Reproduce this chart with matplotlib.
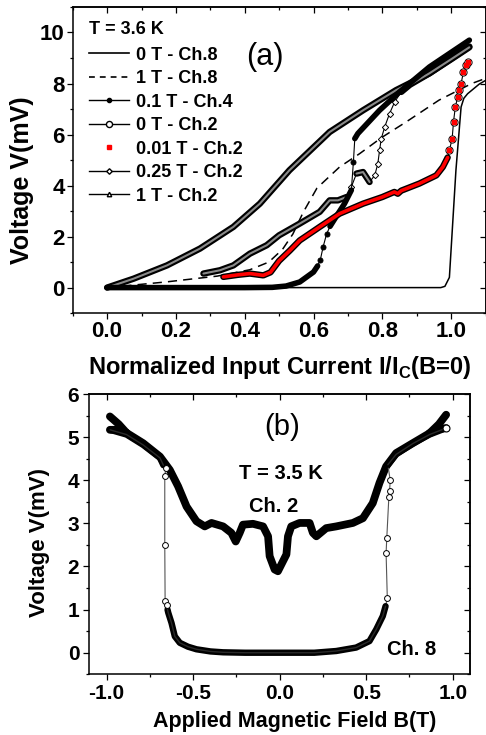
import numpy as np
import matplotlib
matplotlib.use("Agg")
import matplotlib.pyplot as plt
from matplotlib.lines import Line2D
from matplotlib.ticker import MultipleLocator

plt.rcParams['font.family'] = ['Liberation Sans', 'DejaVu Sans']
plt.rcParams['font.weight'] = 'bold'
plt.rcParams['axes.unicode_minus'] = False
plt.rcParams['mathtext.fontset'] = 'custom'
plt.rcParams['mathtext.rm'] = 'Liberation Sans:bold'
plt.rcParams['mathtext.bf'] = 'Liberation Sans:bold'

# ---------------- panel (a): V vs I/Ic, T = 3.6 K ----------------
# 0 T - Ch.8 (solid)
i_0t_ch8 = [0.0, 0.25, 0.5, 0.75, 0.97, 0.982, 0.995, 1.014, 1.029, 1.037, 1.048, 1.082, 1.1]
v_0t_ch8 = [0.0, 0.0, 0.0, 0.0, 0.0, 0.05, 0.4, 4.6, 7.08, 7.42, 7.6, 7.98, 8.12]

# 1 T - Ch.8 (dashed)
i_1t_ch8 = [0.0, 0.17, 0.32, 0.415, 0.47, 0.51, 0.54, 0.57, 0.61, 0.676, 0.734, 0.80, 0.87, 0.965, 1.06, 1.1]
v_1t_ch8 = [0.0, 0.22, 0.45, 0.70, 1.0, 1.5, 2.1, 2.95, 3.9, 4.73, 5.25, 5.9, 6.5, 7.35, 8.0, 8.2]

# 0.1 T - Ch.4 (filled circles)
i_01t_ch4 = [0.0, 0.2, 0.4, 0.48, 0.52, 0.56, 0.60, 0.612, 0.62, 0.628, 0.638, 0.648, 0.662,
             0.69, 0.71, 0.716, 0.72, 0.729, 0.792, 0.85, 0.937, 1.053]
v_01t_ch4 = [0.0, 0.0, 0.0, 0.01, 0.06, 0.22, 0.61, 0.85, 1.1, 1.6, 2.1, 2.4, 2.7,
             3.29, 3.82, 4.93, 5.84, 6.04, 6.95, 7.67, 8.65, 9.7]
sparse_ch4 = [8, 9, 10, 15]

# 0 T - Ch.2 (open circles) and 0.01 T - Ch.2 (red squares), same trace
i_0t_ch2 = [0.338, 0.38, 0.415, 0.454, 0.475, 0.50, 0.531, 0.56, 0.618, 0.676, 0.744, 0.80, 0.835,
            0.845, 0.855, 0.908, 0.957, 0.976, 0.99, 0.995, 1.003, 1.007, 1.012, 1.019, 1.022,
            1.029, 1.036, 1.043, 1.05]
v_0t_ch2 = [0.42, 0.5, 0.55, 0.48, 0.6, 1.05, 1.45, 1.85, 2.38, 2.9, 3.29, 3.55, 3.75,
            3.68, 3.8, 4.08, 4.4, 4.73, 5.1, 5.38, 5.84, 6.5, 7.06, 7.47, 7.74,
            8.0, 8.46, 8.72, 8.85]
sparse_ch2 = list(range(19, 29))

# 0.25 T - Ch.2 (open diamonds)
i_025t_ch2 = [0.28, 0.328, 0.367, 0.415, 0.464, 0.50, 0.56, 0.618, 0.647, 0.671, 0.696, 0.71, 0.725,
              0.744, 0.763, 0.778, 0.787, 0.792, 0.797, 0.807, 0.821, 0.836, 0.855, 0.88, 0.937,
              1.0, 1.053]
v_025t_ch2 = [0.55, 0.68, 0.87, 1.33, 1.66, 2.05, 2.51, 2.97, 3.42, 3.42, 3.55, 3.95, 4.47,
              4.53, 4.14, 4.4, 4.86, 5.38, 5.84, 6.3, 6.82, 7.28, 7.67, 7.95, 8.4,
              8.95, 9.42]
sparse_025 = [11, 15, 16, 17, 18, 19, 20, 21]

# 1 T - Ch.2 (open triangles)
i_1t_ch2 = [0.0, 0.077, 0.174, 0.27, 0.367, 0.444, 0.53, 0.647, 0.744, 0.84, 0.937, 1.053]
v_1t_ch2 = [0.0, 0.35, 0.87, 1.53, 2.38, 3.29, 4.6, 6.1, 6.95, 7.74, 8.4, 9.45]

labels_a = ['0 T - Ch.8', '1 T - Ch.8', '0.1 T - Ch.4', '0 T - Ch.2',
            '0.01 T - Ch.2', '0.25 T - Ch.2', '1 T - Ch.2']

# ---------------- panel (b): V vs B, T = 3.5 K ----------------
# Ch. 2, common part of the sweep
b_ch2 = [-0.885, -0.789, -0.692, -0.635, -0.587, -0.538, -0.481, -0.433, -0.394, -0.327, -0.279,
         -0.254, -0.231, -0.212, -0.154, -0.096, -0.067, -0.058, -0.029, -0.01, 0.039, 0.048,
         0.067, 0.115, 0.173, 0.192, 0.212, 0.269, 0.327, 0.423, 0.481, 0.538, 0.577, 0.615,
         0.673, 0.769, 0.866]
v_ch2 = [5.1, 4.86, 4.55, 4.24, 3.86, 3.39, 3.05, 2.93, 3.01, 2.93, 2.78,
         2.58, 2.78, 2.97, 2.99, 2.93, 2.7, 2.24, 1.93, 1.89, 2.28, 2.7,
         2.93, 3.01, 3.01, 2.78, 2.7, 2.89, 2.93, 3.01, 3.12, 3.47, 3.94, 4.32,
         4.63, 4.86, 5.09]
# Ch. 2, the two branches at the ends of the field range
b_ch2_left = [-0.981, -0.93, -0.885]
v_ch2_left_up = [5.48, 5.3, 5.1]
v_ch2_left_dn = [5.17, 5.17, 5.1]
b_ch2_right = [0.866, 0.92, 0.962]
v_ch2_right_up = [5.09, 5.3, 5.52]
v_ch2_right_dn = [5.09, 5.19, 5.21]

# Ch. 8 (open circles)
b_ch8 = [-0.98, -0.885, -0.789, -0.692, -0.672, -0.658, -0.664, -0.664, -0.662, -0.654, -0.648,
         -0.644, -0.625, -0.606, -0.577, -0.53, -0.481, -0.4, -0.327, -0.2, 0.0, 0.2, 0.327,
         0.442, 0.519, 0.558, 0.596, 0.612, 0.622, 0.615, 0.619, 0.631, 0.635, 0.639, 0.625,
         0.673, 0.769, 0.866, 0.962]
v_ch8 = [5.17, 5.06, 4.82, 4.52, 4.35, 4.28, 4.09, 2.51, 1.19, 1.1, 1.0,
         0.93, 0.69, 0.38, 0.23, 0.14, 0.08, 0.03, 0.01, 0.0, 0.0, 0.0, 0.04,
         0.12, 0.27, 0.54, 0.85, 1.08, 1.27, 2.31, 2.66, 3.61, 3.74, 4.0, 4.36,
         4.6, 4.85, 5.06, 5.21]
sparse_ch8 = [5, 6, 7, 8, 9, 28, 29, 30, 31, 32, 33]


def trace(ax, x, v, sparse=(), lw=4.5, inner=None, inner_lw=1.5, marker=None,
          ms=4.0, mfc='w', thin='k', z=2):
    x = np.asarray(x, float)
    v = np.asarray(v, float)
    vb = v.copy()
    sparse = list(sparse)
    if sparse:
        vb[sparse] = np.nan
    ax.plot(x, v, color=thin, lw=0.8, zorder=z)
    ax.plot(x, vb, color='k', lw=lw, solid_capstyle='round',
            solid_joinstyle='round', zorder=z)
    if inner:
        ax.plot(x, vb, color=inner, lw=inner_lw, solid_capstyle='round', zorder=z)
    if marker and sparse:
        ax.plot(x[sparse], v[sparse], ls='none', marker=marker, ms=ms,
                mfc=mfc, mec='k', mew=0.7, zorder=z + 0.1)


def frame(ax, xmaj, xmin, ymaj, ymin, size):
    for s in ax.spines.values():
        s.set_linewidth(1.1)
    ax.xaxis.set_major_locator(MultipleLocator(xmaj))
    ax.xaxis.set_minor_locator(MultipleLocator(xmin))
    ax.yaxis.set_major_locator(MultipleLocator(ymaj))
    ax.yaxis.set_minor_locator(MultipleLocator(ymin))
    ax.tick_params(which='major', direction='out', length=4.2, width=0.9,
                   labelsize=size, pad=1.5)
    ax.tick_params(which='minor', direction='out', length=2.4, width=0.9)
    top = ax.secondary_xaxis('top')
    right = ax.secondary_yaxis('right')
    top.xaxis.set_major_locator(MultipleLocator(xmaj))
    top.xaxis.set_minor_locator(MultipleLocator(xmin))
    right.yaxis.set_major_locator(MultipleLocator(ymaj))
    right.yaxis.set_minor_locator(MultipleLocator(ymin))
    for sec in (top, right):
        sec.tick_params(which='major', direction='in', length=4.2, width=0.9,
                        labeltop=False, labelright=False)
        sec.tick_params(which='minor', direction='in', length=2.4, width=0.9)
        for s in sec.spines.values():
            s.set_linewidth(1.1)


fig = plt.figure(figsize=(4.86, 7.35), dpi=100)

# ---- (a) ----
ax1 = fig.add_axes([0.1496, 0.574, 0.8494, 0.4165])
ax1.plot(i_0t_ch8, v_0t_ch8, color='k', lw=1.1, zorder=3)
ax1.plot(i_1t_ch8, v_1t_ch8, color='k', lw=1.1, ls=(0, (6, 4)), zorder=3)
trace(ax1, i_1t_ch2, v_1t_ch2, lw=4.6, inner='#8a8a8a', inner_lw=1.5, z=4)
trace(ax1, i_025t_ch2, v_025t_ch2, sparse_025, lw=4.6, inner='#8a8a8a', inner_lw=1.5,
      marker='D', ms=3.2, z=5)
trace(ax1, i_01t_ch4, v_01t_ch4, sparse_ch4, lw=4.0, marker='o', ms=3.6, mfc='k', z=6)
trace(ax1, i_0t_ch2, v_0t_ch2, sparse_ch2, lw=4.6, marker='o', ms=5.2, z=7)
r_i = np.asarray(i_0t_ch2, float)
r_v = np.asarray(v_0t_ch2, float)
rb = r_v.copy()
rb[sparse_ch2] = np.nan
ax1.plot(r_i, rb, color='red', lw=2.6, solid_capstyle='round', zorder=7.5)
ax1.plot(r_i[sparse_ch2], r_v[sparse_ch2], ls='none', marker='s', ms=3.3,
         color='red', zorder=7.6)

ax1.set_xlim(-0.1, 1.1)
ax1.set_ylim(-1, 11)
frame(ax1, 0.2, 0.1, 2, 1, 16)
ax1.set_xlabel(r'Normalized Input Current I/I$_{\mathbf{C}}$(B=0)', fontsize=17,
               fontweight='bold')
ax1.xaxis.set_label_coords(0.5016, -0.135)
ax1.set_ylabel('Voltage V(mV)', fontsize=18, fontweight='bold')
ax1.yaxis.set_label_coords(-0.094, 0.435)
ax1.text(0.465, 0.837, '(a)', transform=ax1.transAxes, fontsize=22,
         fontweight='normal', ha='center', va='center')

handles = [
    Line2D([], [], color='k', lw=1.2),
    Line2D([], [], color='k', lw=1.2, ls=(0, (3.5, 3))),
    Line2D([], [], color='k', lw=1, marker='o', ms=3.0, mfc='k', mec='k'),
    Line2D([], [], color='k', lw=1, marker='o', ms=4.4, mfc='w', mec='k'),
    Line2D([], [], ls='none', marker='s', ms=3.2, mfc='red', mec='red'),
    Line2D([], [], color='k', lw=1, marker='D', ms=2.8, mfc='w', mec='k'),
    Line2D([], [], color='k', lw=1, marker='^', ms=3.2, mfc='w', mec='k'),
]
leg = ax1.legend(handles, labels_a, title='T = 3.6 K', loc='upper left',
                 bbox_to_anchor=(0.039, 0.953), frameon=False, fontsize=13,
                 title_fontsize=13, handlelength=2.2, handletextpad=0.4,
                 labelspacing=0.36, borderpad=0, borderaxespad=0, alignment='left')
leg.get_title().set_fontweight('bold')
leg._legend_box.sep = 6

# ---- (b) ----
ax2 = fig.add_axes([0.1838, 0.0826, 0.7833, 0.3813])
trace(ax2, b_ch2, v_ch2, lw=5.6, z=3)
ax2.plot(b_ch2_left, v_ch2_left_up, color='k', lw=5.6, solid_capstyle='round', zorder=3)
ax2.plot(b_ch2_left, v_ch2_left_dn, color='k', lw=5.6, solid_capstyle='round', zorder=3)
ax2.plot(b_ch2_right, v_ch2_right_up, color='k', lw=5.6, solid_capstyle='round', zorder=3)
ax2.plot(b_ch2_right, v_ch2_right_dn, color='k', lw=5.6, solid_capstyle='round', zorder=3)
trace(ax2, b_ch8, v_ch8, sparse_ch8, lw=4.6, inner='#2a2a2a', inner_lw=1.0,
      marker='o', ms=4.2, thin='#555555', z=4)
ax2.plot(b_ch8[-1], v_ch8[-1], marker='o', ms=5, mfc='w', mec='k', mew=0.8, zorder=5)

ax2.set_xlim(-1.1, 1.1)
ax2.set_ylim(-0.5, 6)
frame(ax2, 0.5, 0.25, 1, 0.5, 15)
ax2.tick_params(which='major', pad=3)
ax2.set_xlabel('Applied Magnetic Field B(T)', fontsize=15.5, fontweight='bold')
ax2.xaxis.set_label_coords(0.54, -0.132)
ax2.set_ylabel('Voltage V(mV)', fontsize=16, fontweight='bold')
ax2.yaxis.set_label_coords(-0.103, 0.47)
ax2.text(0.506, 0.882, '(b)', transform=ax2.transAxes, fontsize=21,
         fontweight='normal', ha='center', va='center')
ax2.text(0.504, 0.715, 'T = 3.5 K', transform=ax2.transAxes, fontsize=14.5,
         ha='center', va='center')
ax2.text(0.485, 0.597, 'Ch. 2', transform=ax2.transAxes, fontsize=14.5,
         ha='center', va='center')
ax2.text(0.847, 0.087, 'Ch. 8', transform=ax2.transAxes, fontsize=14.5,
         ha='center', va='center')

fig.savefig('out.png', dpi=100)
